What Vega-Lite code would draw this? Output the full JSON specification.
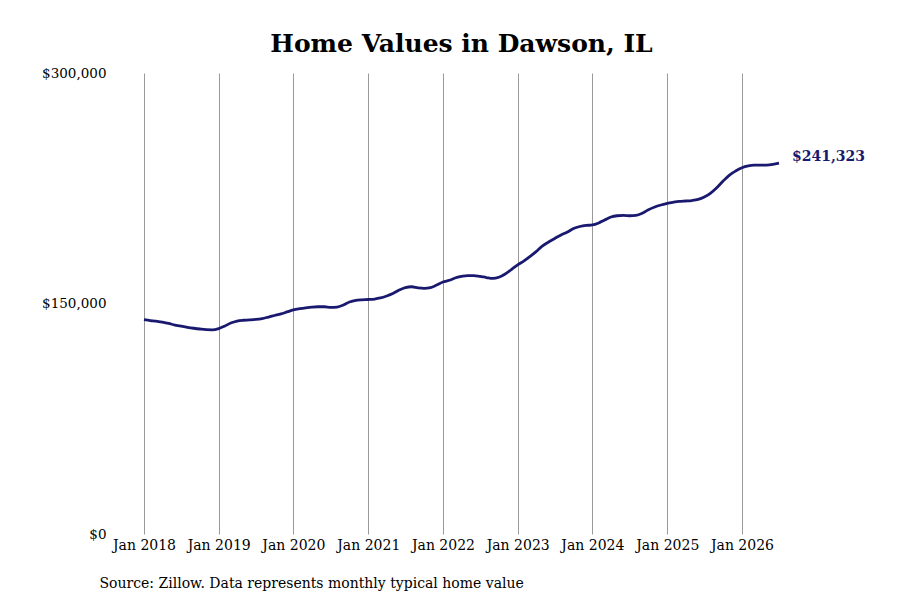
{
  "$schema": "https://vega.github.io/schema/vega-lite/v6.json",
  "width": 635,
  "height": 461,
  "autosize": {"type": "none"},
  "padding": {"left": 144, "top": 73, "right": 121, "bottom": 66},
  "background": "white",
  "title": {
    "text": "Home Values in Dawson, IL",
    "font": "DejaVu Serif",
    "fontSize": 25,
    "fontWeight": "bold",
    "color": "#000000",
    "anchor": "middle",
    "offset": 9
  },
  "config": {
    "view": {"stroke": null},
    "font": "DejaVu Serif"
  },
  "data": {
    "values": [
      {"date": "2018-01-01", "value": 139500},
      {"date": "2018-02-01", "value": 138900},
      {"date": "2018-03-01", "value": 138500},
      {"date": "2018-04-01", "value": 137800},
      {"date": "2018-05-01", "value": 137000},
      {"date": "2018-06-01", "value": 136000},
      {"date": "2018-07-01", "value": 135200},
      {"date": "2018-08-01", "value": 134500},
      {"date": "2018-09-01", "value": 133900},
      {"date": "2018-10-01", "value": 133400},
      {"date": "2018-11-01", "value": 133000},
      {"date": "2018-12-01", "value": 132900},
      {"date": "2019-01-01", "value": 133700},
      {"date": "2019-02-01", "value": 135400},
      {"date": "2019-03-01", "value": 137300},
      {"date": "2019-04-01", "value": 138600},
      {"date": "2019-05-01", "value": 139100},
      {"date": "2019-06-01", "value": 139300},
      {"date": "2019-07-01", "value": 139600},
      {"date": "2019-08-01", "value": 140200},
      {"date": "2019-09-01", "value": 141200},
      {"date": "2019-10-01", "value": 142200},
      {"date": "2019-11-01", "value": 143200},
      {"date": "2019-12-01", "value": 144500},
      {"date": "2020-01-01", "value": 145800},
      {"date": "2020-02-01", "value": 146600},
      {"date": "2020-03-01", "value": 147200},
      {"date": "2020-04-01", "value": 147700},
      {"date": "2020-05-01", "value": 147900},
      {"date": "2020-06-01", "value": 147900},
      {"date": "2020-07-01", "value": 147500},
      {"date": "2020-08-01", "value": 147700},
      {"date": "2020-09-01", "value": 149000},
      {"date": "2020-10-01", "value": 151000},
      {"date": "2020-11-01", "value": 152100},
      {"date": "2020-12-01", "value": 152400},
      {"date": "2021-01-01", "value": 152600},
      {"date": "2021-02-01", "value": 152900},
      {"date": "2021-03-01", "value": 153600},
      {"date": "2021-04-01", "value": 154900},
      {"date": "2021-05-01", "value": 156500},
      {"date": "2021-06-01", "value": 158800},
      {"date": "2021-07-01", "value": 160400},
      {"date": "2021-08-01", "value": 160900},
      {"date": "2021-09-01", "value": 160200},
      {"date": "2021-10-01", "value": 159900},
      {"date": "2021-11-01", "value": 160400},
      {"date": "2021-12-01", "value": 162000},
      {"date": "2022-01-01", "value": 164000},
      {"date": "2022-02-01", "value": 165100},
      {"date": "2022-03-01", "value": 166600},
      {"date": "2022-04-01", "value": 167600},
      {"date": "2022-05-01", "value": 168200},
      {"date": "2022-06-01", "value": 168200},
      {"date": "2022-07-01", "value": 167600},
      {"date": "2022-08-01", "value": 166900},
      {"date": "2022-09-01", "value": 166300},
      {"date": "2022-10-01", "value": 167100},
      {"date": "2022-11-01", "value": 169200},
      {"date": "2022-12-01", "value": 172100},
      {"date": "2023-01-01", "value": 175100},
      {"date": "2023-02-01", "value": 177700},
      {"date": "2023-03-01", "value": 180500},
      {"date": "2023-04-01", "value": 183800},
      {"date": "2023-05-01", "value": 187400},
      {"date": "2023-06-01", "value": 190000},
      {"date": "2023-07-01", "value": 192300},
      {"date": "2023-08-01", "value": 194600},
      {"date": "2023-09-01", "value": 196500},
      {"date": "2023-10-01", "value": 198800},
      {"date": "2023-11-01", "value": 200100},
      {"date": "2023-12-01", "value": 200800},
      {"date": "2024-01-01", "value": 201100},
      {"date": "2024-02-01", "value": 202400},
      {"date": "2024-03-01", "value": 204300},
      {"date": "2024-04-01", "value": 206300},
      {"date": "2024-05-01", "value": 207100},
      {"date": "2024-06-01", "value": 207300},
      {"date": "2024-07-01", "value": 207100},
      {"date": "2024-08-01", "value": 207300},
      {"date": "2024-09-01", "value": 208700},
      {"date": "2024-10-01", "value": 211000},
      {"date": "2024-11-01", "value": 212800},
      {"date": "2024-12-01", "value": 214100},
      {"date": "2025-01-01", "value": 215200},
      {"date": "2025-02-01", "value": 215900},
      {"date": "2025-03-01", "value": 216400},
      {"date": "2025-04-01", "value": 216700},
      {"date": "2025-05-01", "value": 217000},
      {"date": "2025-06-01", "value": 217700},
      {"date": "2025-07-01", "value": 219300},
      {"date": "2025-08-01", "value": 221900},
      {"date": "2025-09-01", "value": 225500},
      {"date": "2025-10-01", "value": 229700},
      {"date": "2025-11-01", "value": 233600},
      {"date": "2025-12-01", "value": 236200},
      {"date": "2026-01-01", "value": 238300},
      {"date": "2026-02-01", "value": 239500},
      {"date": "2026-03-01", "value": 240000},
      {"date": "2026-04-01", "value": 240100},
      {"date": "2026-05-01", "value": 240100},
      {"date": "2026-06-01", "value": 240500},
      {"date": "2026-07-01", "value": 241323}
    ]
  },
  "encoding": {
    "x": {
      "field": "date",
      "type": "temporal",
      "scale": {
        "type": "utc",
        "domain": [
          {"year": 2018, "month": 1, "date": 1, "utc": true},
          {"year": 2026, "month": 7, "date": 1, "utc": true}
        ]
      },
      "axis": {
        "title": "Source: Zillow. Data represents monthly typical home value",
        "titleFont": "DejaVu Serif",
        "titleFontSize": 14,
        "titleFontWeight": "normal",
        "titleColor": "#000000",
        "titleAnchor": "start",
        "titleAlign": "left",
        "titleBaseline": "alphabetic",
        "titleX": -45,
        "titleY": 53,
        "format": "%b %Y",
        "tickCount": {"interval": "year", "step": 1},
        "labelFont": "DejaVu Serif",
        "labelFontSize": 14,
        "labelColor": "#000000",
        "labelPadding": 4,
        "labelFlush": false,
        "labelOverlap": false,
        "domain": false,
        "ticks": false,
        "grid": true,
        "gridColor": "#999999",
        "gridWidth": 1
      }
    },
    "y": {
      "field": "value",
      "type": "quantitative",
      "scale": {"domain": [0, 300000]},
      "axis": {
        "title": null,
        "values": [0, 150000, 300000],
        "format": "$,.0f",
        "labelFont": "DejaVu Serif",
        "labelFontSize": 13.5,
        "labelColor": "#000000",
        "labelPadding": 38,
        "domain": false,
        "ticks": false,
        "grid": false
      }
    }
  },
  "layer": [
    {
      "mark": {
        "type": "line",
        "color": "#191970",
        "strokeWidth": 2.8,
        "interpolate": "monotone"
      }
    },
    {
      "transform": [{"filter": "datum.value == 241323"}],
      "mark": {
        "type": "text",
        "align": "left",
        "baseline": "middle",
        "dx": 13,
        "dy": -6,
        "font": "DejaVu Serif",
        "fontSize": 14,
        "fontWeight": "bold",
        "color": "#191970"
      },
      "encoding": {
        "text": {"field": "value", "type": "quantitative", "format": "$,.0f"}
      }
    }
  ]
}
